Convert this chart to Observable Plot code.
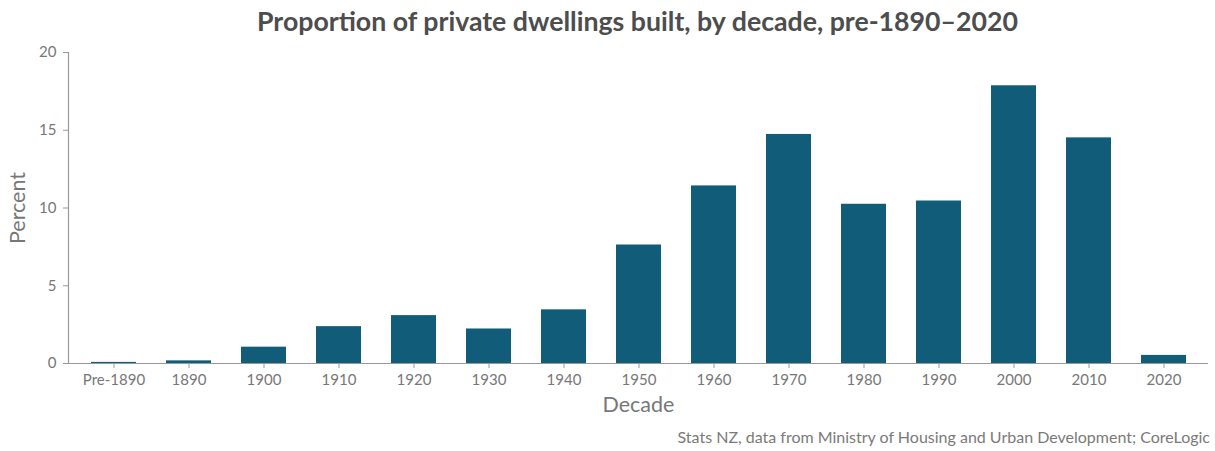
<!DOCTYPE html>
<html>
<head>
<meta charset="utf-8">
<script src="https://cdn.jsdelivr.net/npm/d3@7"></script>
<script src="https://cdn.jsdelivr.net/npm/@observablehq/plot@0.6"></script>
<style>
  html, body { margin: 0; padding: 0; background: #fff; }
  body { width: 1215px; height: 451px; overflow: hidden; font-family: Lato, "Open Sans", sans-serif; }
  #title { position: absolute; left: 60px; width: 1155px; top: 5px; text-align: center;
           font: bold 26.7px Lato, sans-serif; color: #4d4d4d; line-height: 32px; }
  #chart { position: absolute; left: 0; top: 40px; }
  #caption { position: absolute; right: 5px; top: 428px; font: 16px Lato, sans-serif; color: #7a7a7a; line-height: 18px; }
  #chart g[aria-label="x-axis label"] text, #chart g[aria-label="y-axis label"] text { font-size: 21.5px; }
</style>
</head>
<body>
<div id="title">Proportion of private dwellings built, by decade, pre-1890–2020</div>
<div id="chart"></div>
<div id="caption">Stats NZ, data from Ministry of Housing and Urban Development; CoreLogic</div>
<script>
const decades = ["Pre-1890", "1890", "1900", "1910", "1920", "1930", "1940", "1950",
                 "1960", "1970", "1980", "1990", "2000", "2010", "2020"];
const percents = [0.07, 0.17, 1.05, 2.37, 3.08, 2.22, 3.45, 7.62,
                  11.42, 14.73, 10.24, 10.45, 17.86, 14.51, 0.52];
const yTicks = [0, 5, 10, 15, 20];

const data = decades.map((d, i) => ({decade: d, value: percents[i]}));

const marks = [
  Plot.barY(data, {x: "decade", y: "value", fill: "#115c79"}),
  Plot.ruleY([0], {stroke: "#999", strokeWidth: 1.2}),
  Plot.axisX({tickSize: 5, tickPadding: 6, fontSize: 15, color: "#777", stroke: "#999",
              label: "Decade", labelAnchor: "center", labelOffset: 48, labelArrow: "none"}),
  Plot.axisY({ticks: yTicks, tickSize: 5, tickPadding: 7, fontSize: 15, color: "#777", stroke: "#999",
              label: "Percent", labelAnchor: "center", labelOffset: 59, labelArrow: "none"})
];
try { marks.push(Plot.frame({anchor: "left", stroke: "#999", strokeWidth: 1.2})); } catch (e) {}

const chart = Plot.plot({
  width: 1215,
  height: 385,
  marginTop: 12,
  marginBottom: 62,
  marginLeft: 68,
  marginRight: 7,
  style: {fontFamily: "Lato, sans-serif", color: "#777", background: "#fff"},
  x: {domain: decades, paddingInner: 0.4, paddingOuter: 0.3, label: "Decade"},
  y: {domain: [0, 20], label: "Percent"},
  marks
});
document.getElementById("chart").appendChild(chart);
</script>
</body>
</html>
